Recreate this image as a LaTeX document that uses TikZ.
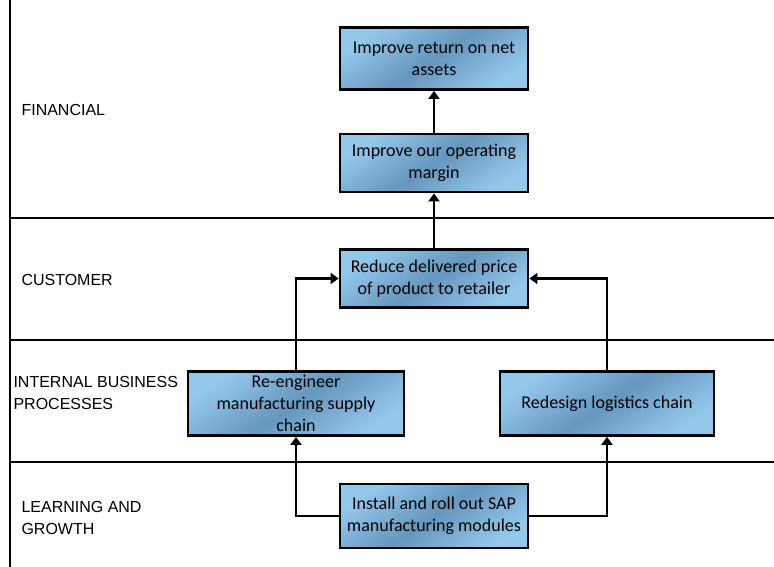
\documentclass[tikz,border=0pt]{standalone}
\usepackage{fontspec}
\setmainfont{Liberation Sans}
\newfontfamily\boxfont{Carlito}
\usetikzlibrary{arrows.meta}
\definecolor{boxlight}{HTML}{94C8EB}
\definecolor{boxdark}{HTML}{5A8AB2}
\begin{document}
\begin{tikzpicture}[x=1pt,y=-1pt,
  goal/.style={draw=black, line width=2.8pt, top color=boxlight, bottom color=boxlight,
    middle color=boxdark!80!boxlight, shading angle=35, align=center,
    font=\boxfont\fontsize{18}{22}\selectfont, inner sep=2pt},
  link/.style={line width=2.8pt, -{Triangle[length=8pt,width=11pt]}},
  rule/.style={line width=2.6pt},
  band/.style={anchor=west, align=left, font=\fontsize{16}{22}\selectfont}]
\useasboundingbox (0,0) rectangle (774,567);
% perspective bands
\coordinate (tl) at (10,0);
\coordinate (bl) at (10,567);
\draw[rule] (tl) -- (bl);
\draw[rule] (10,218) -- (774,218);
\draw[rule] (10,340) -- (774,340);
\draw[rule] (10,462) -- (774,462);
\node[band] (fin) at (18,110) {FINANCIAL};
\node[band] (cus) at (18,280) {CUSTOMER};
\node[band] (ibp) at (10,393) {INTERNAL BUSINESS\\PROCESSES};
\node[band] (lag) at (18,518) {LEARNING AND\\GROWTH};
% objectives
\node[goal, minimum width=188, minimum height=62] (ret) at (434,58.5) {Improve return on net\\assets};
\node[goal, minimum width=188, minimum height=58] (mar) at (434,163) {Improve our operating\\margin};
\node[goal, minimum width=188, minimum height=58] (pri) at (434,278.5) {Reduce delivered price\\of product to retailer};
\node[goal, minimum width=216, minimum height=64] (sup) at (296,403.5) {Re-engineer\\manufacturing supply\\chain};
\node[goal, minimum width=214, minimum height=64] (log) at (607,403.5) {Redesign logistics chain};
\node[goal, minimum width=188, minimum height=64] (sap) at (434,516) {Install and roll out SAP\\manufacturing modules};
% cause and effect links
\draw[link] (mar.north) -- (ret.south);
\draw[link] (pri.north) -- (mar.south);
\draw[link] (sup.north) |- (pri.west);
\draw[link] (log.north) |- (pri.east);
\draw[link] (sap.west) -| (sup.south);
\draw[link] (sap.east) -| (log.south);
\end{tikzpicture}
\end{document}
